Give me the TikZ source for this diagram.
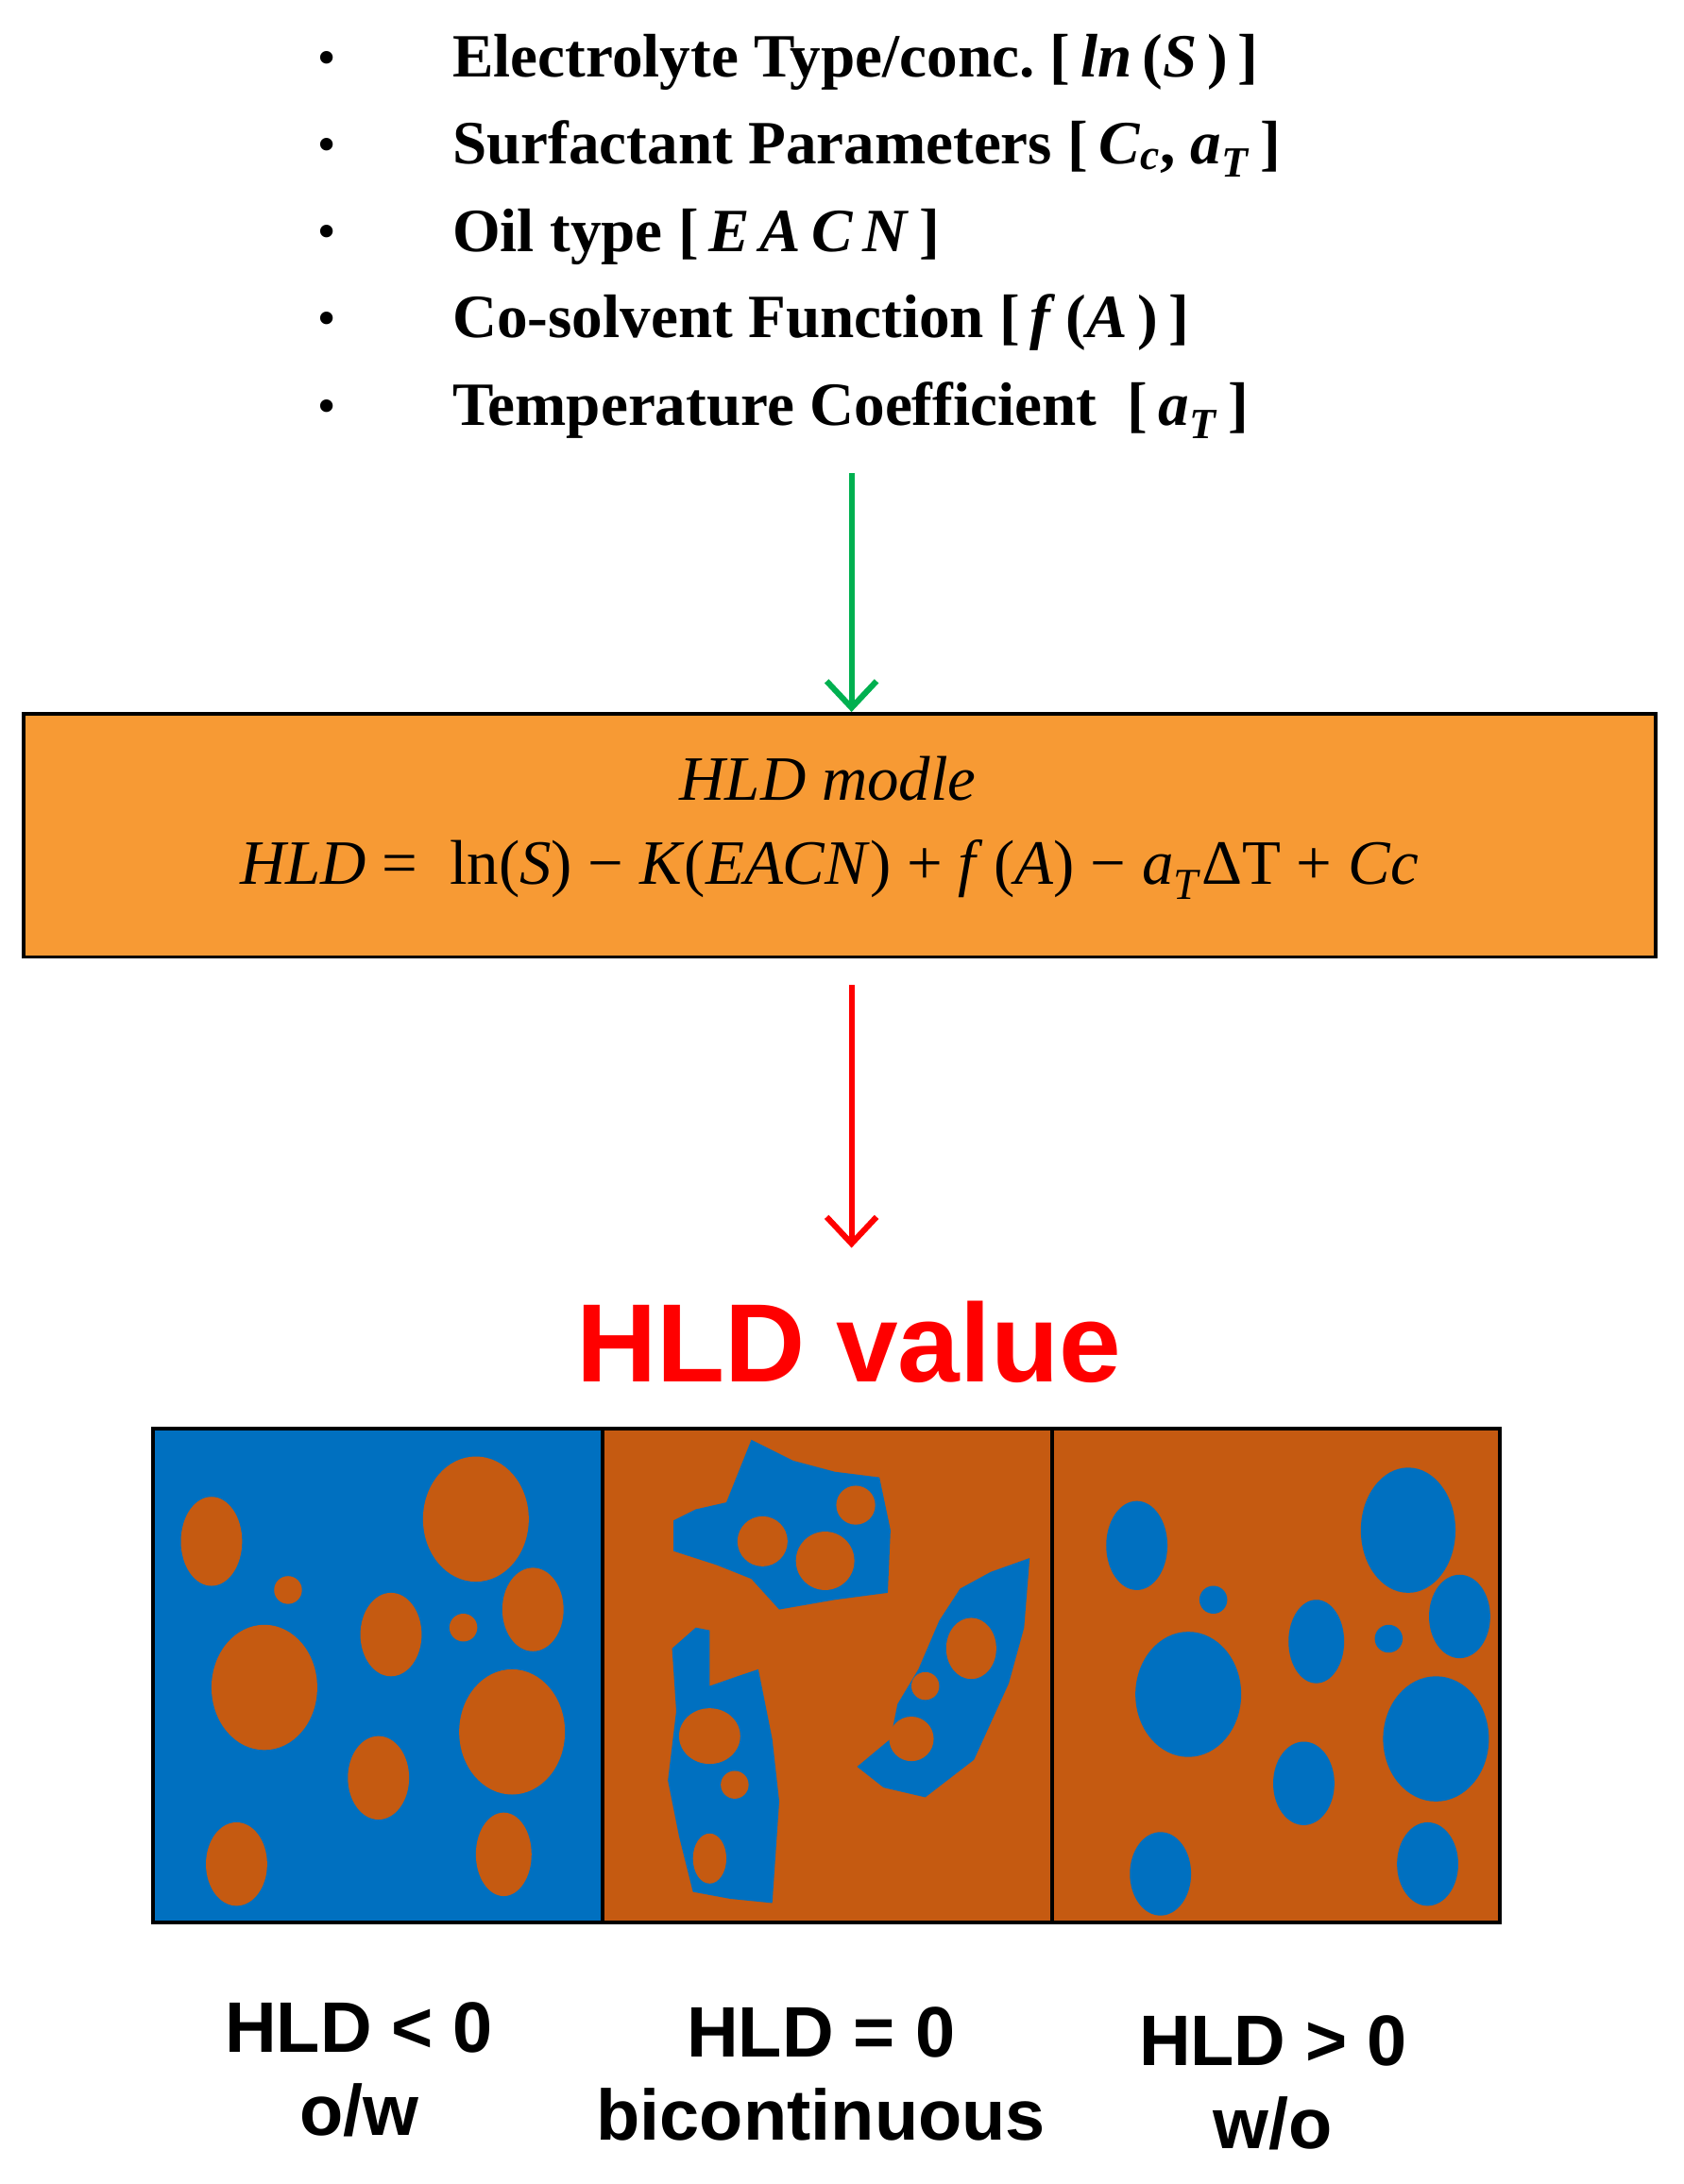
\documentclass[tikz,border=0pt]{standalone}
\usepackage{fontspec}
\setmainfont{Liberation Serif}
\setsansfont{Liberation Sans}
\newfontfamily\mathlike{DejaVu Serif}
\usetikzlibrary{arrows.meta}
\definecolor{myblue}{HTML}{0070C0}
\definecolor{mybrown}{HTML}{C55A11}
\definecolor{myorange}{HTML}{F79A34}
\definecolor{mygreen}{HTML}{00B050}
\definecolor{myred}{HTML}{FF0000}
\newcommand{\subit}[1]{\textsubscript{\textit{#1}}}
\tikzset{
 bul/.style={anchor=west,font=\fontsize{37}{42}\selectfont\bfseries,inner sep=0},
 dot/.style={anchor=center,font=\fontsize{28}{32}\selectfont\bfseries,inner sep=0},
 lab/.style={font=\fontsize{43}{48}\selectfont\sffamily\bfseries,align=center,inner sep=0},
 panel/.style={draw=black,line width=2.5pt},
 arr/.style={line width=3.5pt,-{Straight Barb[length=16pt,width=30pt,line width=3.5pt]}}
}
\begin{document}
\begin{tikzpicture}[x=0.0294cm,y=-0.0294cm]
\useasboundingbox (0,0) rectangle (1210,1570);
\foreach \y/\t [count=\i] in {45/{Electrolyte Type/conc.\ [\,\textit{ln}\,(\textit{S}\,)\,]},
 107/{Surfactant Parameters [\,\textit{C}\subit{c}, \textit{a}\subit{T}\,]},
 170/{Oil type [\,\textit{E\,A\,C\,N}\,]},
 232/{Co-solvent Function [\,\textit{f}\,(\textit{A}\,)\,]},
 295/{Temperature Coefficient\ \ [\,\textit{a}\subit{T}\,]}}{
 \node[dot] (d\i) at (235,\y) {•};
 \node[bul] (t\i) at (325,\y) {\t};
}
\coordinate (gs) at (612,340);
\node[draw=black,line width=2pt,fill=myorange,minimum width=1173*0.0294cm,minimum height=175*0.0294cm,inner sep=0] (box) at (603.5,600.5) {};
\node[font=\fontsize{38}{42}\selectfont] (t6) at (595,560) {\textit{HLD\ modle}};
\node[font=\fontsize{38}{42}\selectfont] (t7) at (596,625) {\textit{HLD} =\ \ ln(\textit{S}) − \textit{K}(\textit{EACN}) + \textit{f}\,(\textit{A}) − \textit{a}\subit{T}ΔT + \textit{Cc}};
\draw[arr,mygreen] (gs) -- (box.north -| gs);
\coordinate (rs) at (612,708);
\coordinate (re) at (612,897);
\draw[arr,myred] (rs) -- (re);
\node[font=\fontsize{67}{70}\selectfont\sffamily\bfseries,text=myred] (hv) at (610,965) {HLD value};
% panels
\path[fill=myblue] (110,1027) rectangle (433,1382);
\path[fill=mybrown] (433,1027) rectangle (1078,1382);
\foreach \x/\y/\a/\b in {152/1108/22/32,342/1092/38/45,207/1143/10/10,190/1213/38/45,281/1175/22/30,333/1170/10/10,383/1157/22/30,368/1245/38/45,272/1278/22/30,170/1340/22/30,362/1333/20/30}
 \fill[mybrown] (\x,\y) ellipse[x radius=\a,y radius=\b];
\foreach \x/\y/\a/\b in {817/1111/22/32,1012/1100/34/45,872/1150/10/10,854/1218/38/45,946/1180/20/30,998/1178/10/10,1049/1162/22/30,1032/1250/38/45,937/1282/22/30,834/1347/22/30,1026/1340/22/30}
 \fill[myblue] (\x,\y) ellipse[x radius=\a,y radius=\b];
% bicontinuous blobs
\fill[myblue] (484,1093) -- (500,1085) -- (522,1080) -- (540,1035) -- (570,1050) -- (600,1058) -- (632,1062) -- (640,1100) -- (638,1145) -- (600,1150) -- (560,1157) -- (540,1135) -- (515,1125) -- (484,1115) -- cycle;
\fill[mybrown] (548,1108) circle (18) (593,1122) circle (21) (615,1082) circle (14);
\fill[myblue] (690,1142) -- (712,1130) -- (740,1120) -- (736,1170) -- (725,1210) -- (700,1265) -- (665,1292) -- (635,1285) -- (616,1270) -- (640,1250) -- (645,1225) -- (660,1200) -- (675,1165) -- cycle;
\fill[mybrown] (698,1185) ellipse[x radius=18,y radius=22] (665,1212) circle (10) (655,1250) circle (16);
\fill[myblue] (483,1185) -- (500,1170) -- (510,1172) -- (510,1212) -- (530,1205) -- (545,1200) -- (555,1250) -- (560,1295) -- (555,1368) -- (525,1365) -- (498,1360) -- (488,1320) -- (480,1280) -- (486,1230) -- cycle;
\fill[mybrown] (510,1248) ellipse[x radius=22,y radius=20] (528,1283) circle (10) (510,1336) ellipse[x radius=12,y radius=18];
\node[panel,minimum width=323*0.0294cm,minimum height=355*0.0294cm,inner sep=0] (p1) at (271.5,1204.5) {};
\node[panel,minimum width=323*0.0294cm,minimum height=355*0.0294cm,inner sep=0] (p2) at (594.5,1204.5) {};
\node[panel,minimum width=322*0.0294cm,minimum height=355*0.0294cm,inner sep=0] (p3) at (917,1204.5) {};
\node[lab] (l1) at (258,1488) {HLD < 0\\[2pt]o/w};
\node[lab] (l2) at (590,1491) {HLD = 0\\[2pt]bicontinuous};
\node[lab] (l3) at (915,1497) {HLD > 0\\[2pt]w/o};
\end{tikzpicture}
\end{document}
